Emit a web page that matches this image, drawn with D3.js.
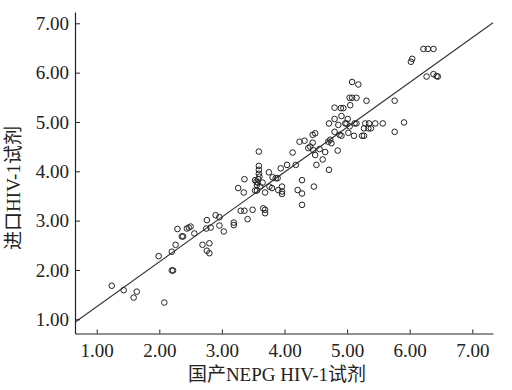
<!DOCTYPE html>
<html>
<head>
<meta charset="utf-8">
<script src="https://cdn.jsdelivr.net/npm/d3@7"></script>
<style>
  body { margin: 0; background: #fff; }
  text { font-family: "Liberation Serif", "Noto Sans CJK SC", serif; fill: #222; }
</style>
</head>
<body>
<svg id="chart"></svg>
<script>
const xTicks = [1, 2, 3, 4, 5, 6, 7];
const yTicks = [1, 2, 3, 4, 5, 6, 7];
const xTitle = "国产NEPG HIV-1试剂";
const yTitle = "进口HIV-1试剂";

// fit line: y = intercept + slope * x
const intercept = 0.346;
const slope = 0.909;

const xVals = [
  1.24, 1.43, 1.59, 1.64, 2.08, 1.99, 2.20, 2.22, 2.20, 2.26,
  2.29, 2.36, 2.38, 2.44, 2.47, 2.50, 2.56, 2.69, 2.76, 2.75,
  2.76, 2.80, 2.80, 2.82, 2.90, 2.96, 2.96, 3.03, 3.19, 3.19,
  3.26, 3.30, 3.36, 3.35, 3.36, 3.41, 3.49, 3.53, 3.55, 3.57,
  3.58, 3.56, 3.59, 3.59, 3.59, 3.59, 3.60, 3.56, 3.61, 3.65,
  3.66, 3.69, 3.69, 3.69, 3.75, 3.76, 3.80, 3.81, 3.86, 3.89,
  3.90, 3.94, 3.96, 3.96, 3.96, 4.04, 4.13, 4.18, 4.21, 4.24,
  4.28, 4.28, 4.28, 4.32, 4.38, 4.41, 4.45, 4.45, 4.49, 4.47,
  4.49, 4.46, 4.51, 4.56, 4.61, 4.65, 4.71, 4.70, 4.73, 4.75,
  4.71, 4.80, 4.80, 4.80, 4.85, 4.86, 4.88, 4.90, 4.94, 4.91,
  4.91, 4.97, 4.99, 5.01, 5.02, 5.04, 5.05, 5.04, 5.08, 5.08,
  5.12, 5.11, 5.15, 5.18, 5.15, 5.24, 5.27, 5.27, 5.29, 5.31,
  5.34, 5.35, 5.38, 5.45, 5.57, 5.76, 5.76, 5.91, 6.02, 6.04,
  6.22, 6.29, 6.38, 6.27, 6.38, 6.43, 6.45, 3.53
];
const yVals = [
  1.68, 1.59, 1.44, 1.56, 1.34, 2.28, 1.99, 1.99, 2.37, 2.51,
  2.83, 2.68, 2.68, 2.84, 2.86, 2.88, 2.74, 2.51, 3.01, 2.84,
  2.39, 2.54, 2.34, 2.86, 3.11, 3.07, 2.90, 2.78, 2.96, 2.91,
  3.66, 3.20, 3.20, 3.57, 3.84, 3.03, 3.22, 3.82, 3.79, 3.77,
  3.84, 3.72, 4.40, 4.11, 4.03, 3.95, 3.89, 3.61, 3.69, 3.77,
  3.25, 3.22, 3.15, 3.57, 3.98, 3.69, 3.66, 3.88, 3.86, 3.86,
  3.62, 4.06, 3.69, 3.59, 3.54, 4.13, 4.38, 4.13, 3.62, 4.60,
  3.82, 3.55, 3.32, 4.62, 4.47, 4.50, 4.58, 4.74, 4.77, 3.69,
  4.33, 4.43, 4.13, 4.45, 4.24, 4.39, 4.03, 4.60, 4.64, 4.57,
  4.97, 5.29, 5.06, 4.80, 4.42, 4.94, 4.74, 5.28, 5.28, 5.12,
  4.72, 4.97, 4.97, 5.06, 4.78, 4.91, 5.34, 5.49, 5.49, 5.81,
  4.97, 4.72, 5.49, 5.76, 4.97, 4.72, 4.72, 4.87, 4.97, 5.43,
  4.87, 4.97, 4.87, 4.97, 4.97, 5.43, 4.80, 4.99, 6.22, 6.28,
  6.48, 6.48, 6.48, 5.92, 5.97, 5.93, 5.92, 3.61
];

const W = 512, H = 390;
const svg = d3.select("#chart").attr("width", W).attr("height", H);

const x = d3.scaleLinear().domain([0.653, 7.331]).range([75, 493]);
const y = d3.scaleLinear().domain([0.712, 7.229]).range([333.5, 12]);

const points = xVals.map((v, i) => ({ x: v, y: yVals[i] }));

// regression line across the full x domain
const lineData = x.domain().map(v => ({ x: v, y: intercept + slope * v }));
svg.append("path")
  .datum(lineData)
  .attr("fill", "none")
  .attr("stroke", "#333")
  .attr("stroke-width", 1.1)
  .attr("d", d3.line().x(d => x(d.x)).y(d => y(d.y)));

svg.selectAll(".pt")
  .data(points)
  .join("circle")
  .attr("class", "pt")
  .attr("cx", d => x(d.x))
  .attr("cy", d => y(d.y))
  .attr("r", 2.8)
  .attr("fill", "none")
  .attr("stroke", "#222")
  .attr("stroke-width", 1);

const xAxis = d3.axisBottom(x)
  .tickValues(xTicks)
  .tickFormat(d3.format(".2f"))
  .tickSizeInner(-4)
  .tickSizeOuter(0)
  .tickPadding(10);

const gx = svg.append("g")
  .attr("transform", `translate(0, ${y.range()[0]})`)
  .call(xAxis);

const yAxis = d3.axisLeft(y)
  .tickValues(yTicks)
  .tickFormat(d3.format(".2f"))
  .tickSizeInner(-5)
  .tickSizeOuter(0)
  .tickPadding(6);

const gy = svg.append("g")
  .attr("transform", `translate(${x.range()[0]}, 0)`)
  .call(yAxis);

[gx, gy].forEach(g => {
  g.select(".domain").attr("stroke", "#222").attr("stroke-width", 1.2);
  g.selectAll(".tick line").attr("stroke", "#222");
  g.selectAll(".tick text")
    .attr("font-size", 19)
    .attr("font-family", "Liberation Serif, serif")
    .attr("fill", "#222");
});

svg.append("text")
  .attr("x", 277)
  .attr("y", 381)
  .attr("text-anchor", "middle")
  .attr("font-size", 19)
  .text(xTitle);

svg.append("text")
  .attr("transform", `translate(20, 188) rotate(-90)`)
  .attr("text-anchor", "middle")
  .attr("font-size", 19)
  .text(yTitle);
</script>
</body>
</html>
